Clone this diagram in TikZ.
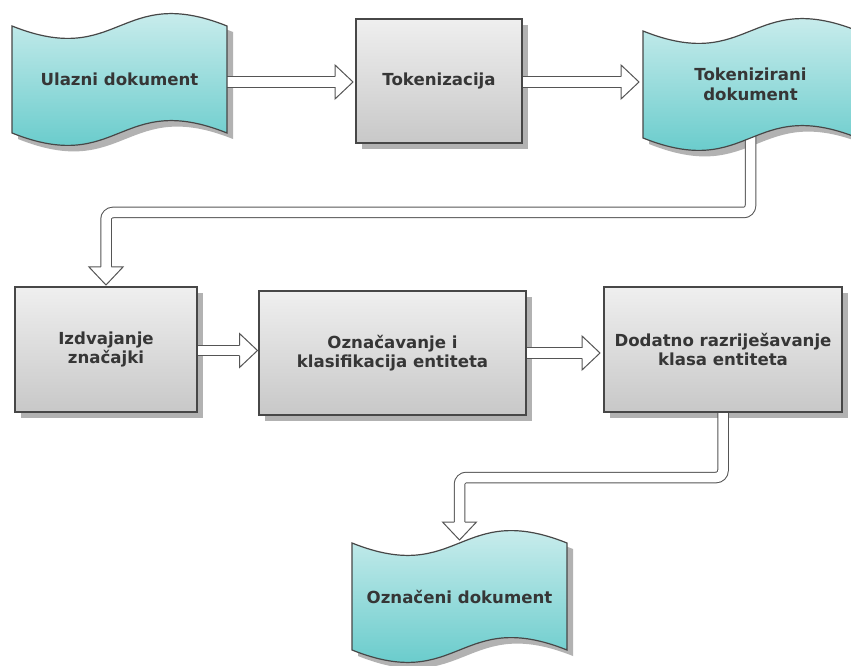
\documentclass[tikz,border=0pt]{standalone}
\usepackage{fontspec}
\setmainfont{DejaVu Sans}
\usetikzlibrary{calc}
\pgfdeclarelayer{shadowlayer}
\pgfdeclarelayer{arrowlayer}
\pgfdeclarelayer{shapelayer}
\pgfsetlayers{shadowlayer,arrowlayer,shapelayer,main}
\definecolor{outc}{HTML}{474747}
\definecolor{arrc}{HTML}{555555}
\definecolor{shadowc}{HTML}{B2B2B2}
\definecolor{boxtop}{HTML}{EFEFEF}
\definecolor{boxbot}{HTML}{C8C8C8}
\definecolor{doctop}{HTML}{DDF3F3}
\definecolor{docbot}{HTML}{55C5C5}
\definecolor{txtc}{HTML}{363636}
\newcommand\docshape[1]{%
  \begin{pgfonlayer}{shadowlayer}
    \fill[shadowc, transform canvas={shift={(6pt,-6pt)}}] (#1.north west) .. controls ($(#1.north)+(0,-43)$) and ($(#1.north)+(0,43)$) .. (#1.north east) -- (#1.south east) .. controls ($(#1.south)+(0,43)$) and ($(#1.south)+(0,-43)$) .. (#1.south west) -- cycle;
  \end{pgfonlayer}
  \begin{pgfonlayer}{shapelayer}
    \path[draw=outc, line width=1.2pt, top color=doctop, bottom color=docbot] (#1.north west) .. controls ($(#1.north)+(0,-43)$) and ($(#1.north)+(0,43)$) .. (#1.north east) -- (#1.south east) .. controls ($(#1.south)+(0,43)$) and ($(#1.south)+(0,-43)$) .. (#1.south west) -- cycle;
  \end{pgfonlayer}}
\newcommand\boxshadow[1]{%
  \begin{pgfonlayer}{shadowlayer}
    \fill[shadowc] ($(#1.south west)+(6,-6)$) rectangle ($(#1.north east)+(6,-6)$);
  \end{pgfonlayer}}
\newcommand\headright[1]{%
  \path[arrhead] ($(#1)+(-18,5.25)$) -- ($(#1)+(-18,17)$) -- (#1) -- ($(#1)+(-18,-17)$) -- ($(#1)+(-18,-5.25)$);}
\newcommand\headdown[1]{%
  \path[arrhead] ($(#1)+(-5.25,18)$) -- ($(#1)+(-17,18)$) -- (#1) -- ($(#1)+(17,18)$) -- ($(#1)+(5.25,18)$);}
\begin{document}
\begin{tikzpicture}[x=1pt,y=1pt,
  lbl/.style={font=\fontsize{16.6}{19.5}\selectfont\bfseries, text=txtc, align=center, inner sep=0pt, outer sep=0pt},
  docnode/.style={lbl, minimum width=215pt, minimum height=107pt},
  boxnode/.style={lbl, draw=outc, line width=1.2pt, top color=boxtop, bottom color=boxbot},
  shaft/.style={draw=arrc, line width=1pt, double=white, double distance=9.5pt, rounded corners=7pt},
  arrhead/.style={fill=white, draw=arrc, line width=1pt, line join=miter}]
\useasboundingbox (0,0) rectangle (851,665);
\begin{pgfonlayer}{shadowlayer}
  \fill[white] (0,0) rectangle (851,665);
\end{pgfonlayer}

% nodes
\node[docnode] (ulaz) at (119.5,585.5) {Ulazni dokument};
\node[boxnode, minimum width=166pt, minimum height=124pt] (tok) at (439,584) {Tokenizacija};
\node[docnode] (tokdoc) at (750.5,580.5) {Tokenizirani\\dokument};
\node[boxnode, minimum width=182pt, minimum height=125pt] (izd) at (106,315.5) {Izdvajanje\\značajki};
\node[boxnode, minimum width=267pt, minimum height=124pt] (ozn) at (392.5,312) {Označavanje i\\klasifikacija entiteta};
\node[boxnode, minimum width=238pt, minimum height=125pt] (dod) at (723,315.5) {Dodatno razriješavanje\\klasa entiteta};
\node[docnode] (ozndoc) at (459.5,68.5) {Označeni dokument};

\docshape{ulaz}
\docshape{tokdoc}
\docshape{ozndoc}
\boxshadow{tok}
\boxshadow{izd}
\boxshadow{ozn}
\boxshadow{dod}

% connectors
\coordinate (t1) at ($(tok.west)+(-3,-1)$);
\coordinate (t2) at ($(tok.east -| tokdoc.west)+(-4,-1)$);
\coordinate (r3) at (0,452.5);
\coordinate (t3) at ($(izd.north)+(0,2)$);
\coordinate (t4) at ($(izd.east -| ozn.west)+(-1.5,-1)$);
\coordinate (t5) at ($(ozn.east -| dod.west)+(-4,0)$);
\coordinate (r6) at (0,187.5);
\coordinate (t6) at ($(ozndoc.north)+(0,3)$);
\begin{pgfonlayer}{arrowlayer}
  \draw[shaft] (ulaz.center |- t1) -- ($(t1)+(-17,0)$);
  \headright{t1}
  \draw[shaft] (tok.center |- t2) -- ($(t2)+(-17,0)$);
  \headright{t2}
  \draw[shaft] (tokdoc.center) -- (tokdoc.center |- r3) -- (izd.north |- r3) -- ($(t3)+(0,17)$);
  \headdown{t3}
  \draw[shaft] (izd.center |- t4) -- ($(t4)+(-17,0)$);
  \headright{t4}
  \draw[shaft] (ozn.center |- t5) -- ($(t5)+(-17,0)$);
  \headright{t5}
  \draw[shaft] (dod.center) -- (dod.center |- r6) -- (ozndoc.north |- r6) -- ($(t6)+(0,17)$);
  \headdown{t6}
\end{pgfonlayer}
\end{tikzpicture}
\end{document}
